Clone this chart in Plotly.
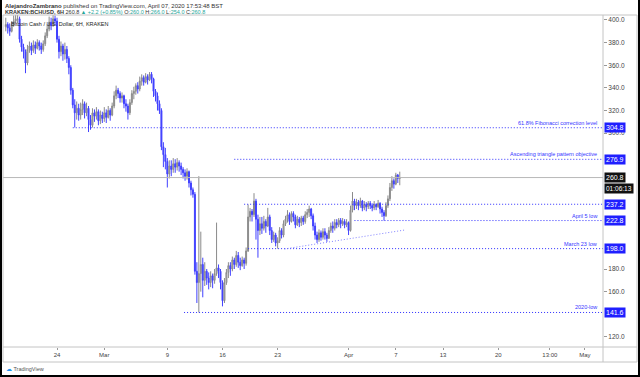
import plotly.graph_objects as go
import pandas as pd

# ---------------- data (6H candles, KRAKEN:BCHUSD) ----------------
first_open = 394
closes = [
    396, 393,                 # Feb 17 (12h, 18h)
    390, 396, 399, 401,       # Feb 18
    401, 383, 376, 372,       # Feb 19
    362, 374, 377, 373,       # Feb 20
    378, 375, 380, 377,       # Feb 21
    374, 379, 386, 392,       # Feb 22
    398, 395, 401, 399,       # Feb 23
    383, 372, 377, 370,       # Feb 24
    374, 366, 358, 338,       # Feb 25
    325, 318, 322, 316,       # Feb 26
    321, 326, 318, 322,       # Feb 27
    312, 307, 318, 315,       # Feb 28
    319, 311, 316, 313,       # Feb 29
    318, 314, 320, 316,       # Mar 1
    324, 333, 338, 335,       # Mar 2
    331, 333, 326, 324,       # Mar 3
    318, 327, 335, 337,       # Mar 4
    342, 339, 346, 349,       # Mar 5
    345, 350, 347, 352,       # Mar 6
    348, 337, 333, 326,       # Mar 7
    320, 288, 281, 275,       # Mar 8
    264, 271, 268, 273,       # Mar 9
    270, 274, 271, 268,       # Mar 10
    265, 262, 266, 256,       # Mar 11
    250, 246, 178, 168,       # Mar 12
    176, 184, 170, 178,       # Mar 13
    172, 168, 174, 170,       # Mar 14
    176, 181, 178, 168,       # Mar 15
    152, 168, 177, 183,       # Mar 16
    180, 188, 184, 192,       # Mar 17
    186, 183, 188, 185,       # Mar 18
    196, 226, 231, 228,       # Mar 19
    240, 224, 214, 220,       # Mar 20
    216, 222, 218, 226,       # Mar 21
    214, 206, 210, 203,       # Mar 22
    205, 214, 210, 220,       # Mar 23
    224, 228, 222, 229,       # Mar 24
    226, 219, 224, 221,       # Mar 25
    225, 222, 228, 230,       # Mar 26
    233, 227, 218, 210,       # Mar 27
    206, 212, 208, 213,       # Mar 28
    210, 207, 214, 218,       # Mar 29
    216, 221, 219, 223,       # Mar 30
    220, 222, 219, 221,       # Mar 31
    214, 232, 240, 236,       # Apr 1
    239, 236, 240, 234,       # Apr 2
    237, 235, 238, 236,       # Apr 3
    234, 237, 235, 238,       # Apr 4
    233, 230, 227, 236,       # Apr 5
    242, 252, 258, 255,       # Apr 6
    263, 260.0, 260.8,        # Apr 7
]
highs = [
    402, 398,
    397, 399, 404, 405,
    406, 403, 386, 379,
    374, 378, 381, 380,
    382, 381, 383, 382,
    380, 382, 389, 396,
    403, 402, 405, 404,
    402, 386, 381, 379,
    380, 377, 368, 360,
    340, 330, 328, 326,
    327, 330, 328, 327,
    324, 316, 322, 321,
    323, 321, 320, 319,
    323, 321, 324, 322,
    327, 337, 342, 340,
    337, 336, 334, 330,
    326, 330, 338, 341,
    344, 345, 350, 352,
    351, 353, 352, 354,
    354, 349, 339, 336,
    329, 322, 292, 287,
    278, 276, 276, 278,
    277, 278, 276, 274,
    270, 268, 269, 267,
    258, 252, 248, 186,
    262, 213, 190, 186,
    180, 177, 178, 176,
    180, 221, 184, 180,
    170, 172, 180, 186,
    186, 191, 190, 196,
    195, 190, 191, 190,
    199, 237, 234, 233,
    247, 242, 228, 226,
    226, 227, 224, 234,
    228, 217, 213, 212,
    208, 217, 216, 223,
    227, 232, 230, 231,
    231, 228, 227, 226,
    227, 227, 231, 233,
    236, 234, 229, 221,
    213, 215, 214, 216,
    216, 212, 217, 221,
    222, 224, 224, 225,
    225, 225, 224, 224,
    222, 236, 248, 242,
    242, 241, 243, 241,
    240, 239, 240, 240,
    238, 240, 238, 241,
    239, 235, 232, 239,
    245, 256, 262, 260,
    265, 264, 266.0,
]
lows = [
    390, 388,
    386, 389, 394, 397,
    397, 380, 372, 366,
    353, 360, 371, 369,
    371, 370, 374, 373,
    370, 372, 377, 384,
    390, 391, 394, 395,
    380, 366, 368, 364,
    365, 362, 352, 334,
    322, 305, 312, 311,
    312, 316, 313, 315,
    301, 303, 305, 310,
    312, 307, 308, 309,
    310, 309, 313, 311,
    315, 322, 330, 331,
    327, 327, 322, 319,
    312, 316, 325, 330,
    334, 335, 337, 342,
    342, 344, 343, 346,
    344, 332, 328, 320,
    317, 285, 270, 268,
    252, 260, 262, 265,
    265, 267, 266, 263,
    260, 258, 259, 252,
    245, 243, 175, 150,
    141.6, 160, 155, 165,
    166, 162, 164, 163,
    167, 174, 172, 162,
    147, 150, 166, 172,
    174, 178, 180, 182,
    181, 179, 182, 180,
    183, 195, 222, 222,
    226, 206, 190, 210,
    211, 214, 212, 217,
    210, 203, 204, 200,
    198.0, 203, 207, 208,
    218, 221, 219, 221,
    222, 216, 218, 217,
    218, 219, 220, 225,
    226, 224, 214, 206,
    203, 204, 205, 206,
    206, 204, 207, 212,
    212, 214, 216, 217,
    216, 218, 216, 217,
    210, 213, 230, 232,
    233, 232, 234, 231,
    232, 231, 233, 233,
    231, 232, 232, 234,
    229, 226, 222.8, 226,
    234, 240, 249, 251,
    254, 256, 254.0,
]

# horizontal levels: (price, start time, label)
level_prices = [304.8, 276.9, 237.2, 222.8, 198.0, 141.6]
level_starts = ["2020-02-26 00:00", "2020-03-17 12:00", "2020-03-18 18:00",
                "2020-04-01 18:00", "2020-03-19 06:00", "2020-03-11 03:00"]
level_labels = ["61.8% Fibonacci correction level", "Ascending triangle pattern objective",
                "", "April 5 low", "March 23 low", "2020-low"]
trend_times = ["2020-03-23 21:00", "2020-04-08 04:00"]
trend_prices = [197.7, 214.5]
last_price = 260.8
countdown = "01:06:13"

y_ticks = [400, 380, 360, 340, 320, 300, 180, 160, 120]
x_tick_vals = ["2020-02-24", "2020-03-01", "2020-03-09", "2020-03-16", "2020-03-23",
               "2020-04-01", "2020-04-07", "2020-04-13", "2020-04-20",
               "2020-04-26 13:00", "2020-05-01"]
x_tick_text = ["24", "Mar", "9", "16", "23", "Apr", "7", "13", "20", "13:00", "May"]

# ---------------- build ----------------
n = min(len(closes), len(highs), len(lows))
closes, highs, lows = closes[:n], highs[:n], lows[:n]
opens = [first_open] + closes[:-1]
highs = [max(h, o, c) for h, o, c in zip(highs, opens, closes)]
lows = [min(l, o, c) for l, o, c in zip(lows, opens, closes)]
times = pd.date_range("2020-02-17 12:00", periods=n, freq="6h")

X0, X1 = "2020-02-17 03:30", "2020-05-03 07:00"
Y0, Y1 = 111.1, 404.4

W, H = 640, 377
L_, R_, T_, B_ = 3, 603, 15, 347


def px(x):
    return (x - L_) / (R_ - L_)


def py(y):
    return (B_ - y) / (B_ - T_)


BLUE = "#2f2fff"
fig = go.Figure()
fig.add_trace(go.Candlestick(
    x=times, open=opens, high=highs, low=lows, close=closes,
    increasing=dict(line=dict(color="#8a8a8a", width=1), fillcolor="#bcbcbc"),
    decreasing=dict(line=dict(color="#4040ff", width=1), fillcolor="#4040ff"),
    whiskerwidth=0, showlegend=False, hoverinfo="skip",
))

shapes = []
annotations = []
# current price line
shapes.append(dict(type="line", xref="x", yref="y", x0=X0, x1=X1, y0=last_price, y1=last_price,
                   line=dict(color="#b8b8b8", width=1)))
for p, s, lab in zip(level_prices, level_starts, level_labels):
    shapes.append(dict(type="line", xref="x", yref="y", x0=s, x1=X1, y0=p, y1=p,
                       line=dict(color=BLUE, width=1, dash="1px,2px")))
    if lab:
        annotations.append(dict(xref="paper", yref="y", x=px(599), y=p, text=lab,
                                xanchor="right", yanchor="bottom", yshift=0, showarrow=False,
                                font=dict(family="Liberation Sans", size=5.5, color="#3535ff")))
    annotations.append(dict(xref="paper", yref="y", x=px(604), y=p, text="%.1f" % p,
                            xanchor="left", yanchor="middle", showarrow=False,
                            bgcolor="#1f1fff", borderpad=1,
                            font=dict(family="Liberation Sans", size=7, color="white")))
shapes.append(dict(type="line", xref="x", yref="y", x0=trend_times[0], x1=trend_times[1],
                   y0=trend_prices[0], y1=trend_prices[1],
                   line=dict(color="#8080ff", width=1, dash="1px,2px")))
annotations.append(dict(xref="paper", yref="y", x=px(604), y=last_price, text="%.1f" % last_price,
                        xanchor="left", yanchor="middle", showarrow=False,
                        bgcolor="#111111", borderpad=1,
                        font=dict(family="Liberation Sans", size=7, color="white")))
annotations.append(dict(xref="paper", yref="paper", x=px(604), y=py(188), text=countdown,
                        xanchor="left", yanchor="middle", showarrow=False,
                        bgcolor="#111111", borderpad=1,
                        font=dict(family="Liberation Sans", size=6.5, color="white")))

# frame & axes lines
GREY = "#c4c4c4"
shapes += [
    dict(type="rect", xref="paper", yref="paper", x0=px(3), x1=px(637), y0=py(362), y1=py(15),
         line=dict(color=GREY, width=1)),
    dict(type="line", xref="paper", yref="paper", x0=px(3), x1=px(637), y0=py(347), y1=py(347),
         line=dict(color=GREY, width=1)),
    dict(type="line", xref="paper", yref="paper", x0=px(603), x1=px(603), y0=py(362), y1=py(15),
         line=dict(color=GREY, width=1)),
    # black outer border
    dict(type="rect", xref="paper", yref="paper", x0=px(0), x1=px(2), y0=py(377), y1=py(0),
         line=dict(width=0), fillcolor="black"),
    dict(type="rect", xref="paper", yref="paper", x0=px(638), x1=px(640), y0=py(377), y1=py(0),
         line=dict(width=0), fillcolor="black"),
    dict(type="rect", xref="paper", yref="paper", x0=px(0), x1=px(640), y0=py(377), y1=py(375),
         line=dict(width=0), fillcolor="black"),
]

GREEN = "#26a69a"
annotations += [
    dict(xref="paper", yref="paper", x=px(3), y=py(5.5), xanchor="left", yanchor="middle",
         showarrow=False,
         text="<b>AlejandroZambrano</b> published on TradingView.com, April 07, 2020 17:53:48 BST",
         font=dict(family="Liberation Sans", size=6, color="#333333")),
    dict(xref="paper", yref="paper", x=px(3), y=py(12), xanchor="left", yanchor="middle",
         showarrow=False,
         text=("<b>KRAKEN:BCHUSD, 6H</b> 260.8 <span style='color:%s'>▲ +2.2 (+0.85%%)</span> "
               "O:<span style='color:%s'>260.0</span> H:<span style='color:%s'>266.0</span> "
               "L:<span style='color:%s'>254.0</span> C:<span style='color:%s'>260.8</span>")
         % (GREEN, GREEN, GREEN, GREEN, GREEN),
         font=dict(family="Liberation Sans", size=5.5, color="#333333")),
    dict(xref="paper", yref="paper", x=px(9), y=py(24), xanchor="left", yanchor="middle",
         showarrow=False, text="Bitcoin Cash / U.S. Dollar, 6H, KRAKEN",
         font=dict(family="Liberation Sans", size=5.5, color="#222222")),
    dict(xref="paper", yref="paper", x=px(4), y=py(369), xanchor="left", yanchor="middle",
         showarrow=False, text="<span style='color:#2196f3'>☁</span> TradingView",
         font=dict(family="Liberation Sans", size=5.5, color="#555555")),
]

fig.update_layout(
    width=W, height=H,
    margin=dict(l=L_, r=W - R_, t=T_, b=H - B_, pad=0),
    paper_bgcolor="white", plot_bgcolor="white",
    shapes=shapes, annotations=annotations, showlegend=False,
    xaxis=dict(type="date", range=[X0, X1], rangeslider=dict(visible=False),
               showgrid=False, zeroline=False, showline=False,
               tickvals=x_tick_vals, ticktext=x_tick_text,
               ticks="outside", ticklen=2, tickcolor="#999999",
               tickfont=dict(family="Liberation Sans", size=6, color="#444444")),
    yaxis=dict(side="right", range=[Y0, Y1], showgrid=False, zeroline=False, showline=False,
               tickvals=y_ticks, ticktext=["%.1f" % v for v in y_ticks],
               ticks="outside", ticklen=3, tickcolor="#999999",
               tickfont=dict(family="Liberation Sans", size=6.5, color="#444444")),
)

fig.write_html("out.html", config={"displayModeBar": False},
               post_script="document.body.style.margin='0px';document.body.style.overflow='hidden';")
